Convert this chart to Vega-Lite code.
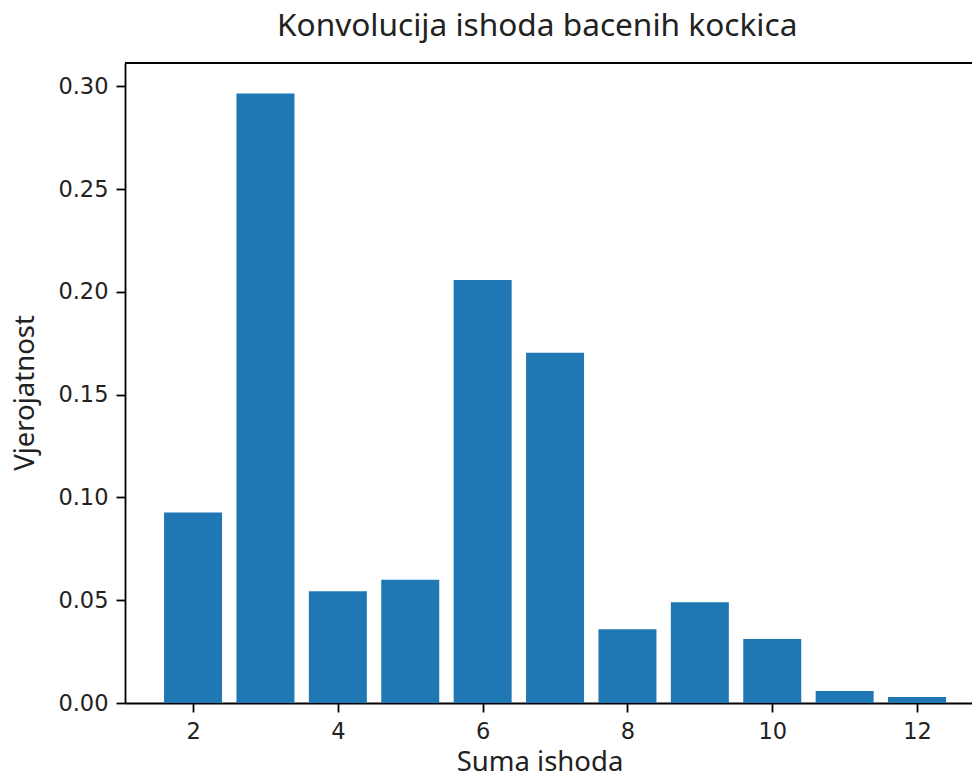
{
  "$schema": "https://vega.github.io/schema/vega-lite/v6.json",
  "autosize": "none",
  "width": 847,
  "height": 640,
  "padding": {"left": 125, "top": 63, "right": 0, "bottom": 75},
  "background": "white",
  "title": {
    "text": "Konvolucija ishoda bacenih kockica",
    "font": "Noto Sans",
    "fontSize": 31.6,
    "fontWeight": "normal",
    "color": "#222222",
    "anchor": "start",
    "frame": "group",
    "dx": 152,
    "offset": 20
  },
  "config": {
    "view": {"stroke": null},
    "axis": {"grid": false}
  },
  "layer": [
    {
      "data": {
        "values": [
          {"suma": 2, "p": 0.0927},
          {"suma": 3, "p": 0.2966},
          {"suma": 4, "p": 0.0544},
          {"suma": 5, "p": 0.0600},
          {"suma": 6, "p": 0.2058},
          {"suma": 7, "p": 0.1704},
          {"suma": 8, "p": 0.0359},
          {"suma": 9, "p": 0.0490},
          {"suma": 10, "p": 0.0311},
          {"suma": 11, "p": 0.0058},
          {"suma": 12, "p": 0.0029}
        ]
      },
      "mark": {"type": "bar", "width": 58, "color": "#1f77b4"},
      "encoding": {
        "x": {
          "field": "suma",
          "type": "quantitative",
          "scale": {"domain": [1.06, 12.759], "nice": false, "zero": false, "padding": 0},
          "axis": {
            "values": [2, 4, 6, 8, 10, 12],
            "format": "d",
            "title": "Suma ishoda",
            "titleFont": "Noto Sans",
            "titleFontSize": 27.5,
            "titleFontWeight": "normal",
            "titleColor": "#222222",
            "titleX": 414.5,
            "titleY": 67,
            "titleBaseline": "alphabetic",
            "titleAnchor": "middle",
            "titleAlign": "center",
            "labelFont": "DejaVu Sans",
            "labelFontSize": 22.5,
            "labelColor": "#222222",
            "labelPadding": 8,
            "tickSize": 9,
            "tickWidth": 1.8,
            "tickColor": "black",
            "domainColor": "black",
            "domainWidth": 1.8
          }
        },
        "y": {
          "field": "p",
          "type": "quantitative",
          "scale": {"domain": [0, 0.3114], "nice": false, "padding": 0},
          "axis": {
            "values": [0, 0.05, 0.1, 0.15, 0.2, 0.25, 0.3],
            "format": ".2f",
            "title": "Vjerojatnost",
            "titleFont": "Noto Sans",
            "titleFontSize": 27.5,
            "titleFontWeight": "normal",
            "titleColor": "#222222",
            "titleX": -92,
            "titleY": 329.5,
            "titleAngle": -90,
            "titleBaseline": "alphabetic",
            "titleAlign": "center",
            "labelFont": "DejaVu Sans",
            "labelFontSize": 22.5,
            "labelColor": "#222222",
            "labelPadding": 8,
            "tickSize": 9,
            "tickWidth": 1.8,
            "tickColor": "black",
            "domainColor": "black",
            "domainWidth": 1.8
          }
        }
      }
    },
    {
      "data": {"values": [{"edge": 0.3114}]},
      "mark": {"type": "rule", "color": "black", "strokeWidth": 1.8},
      "encoding": {
        "y": {"field": "edge", "type": "quantitative"}
      }
    }
  ]
}
